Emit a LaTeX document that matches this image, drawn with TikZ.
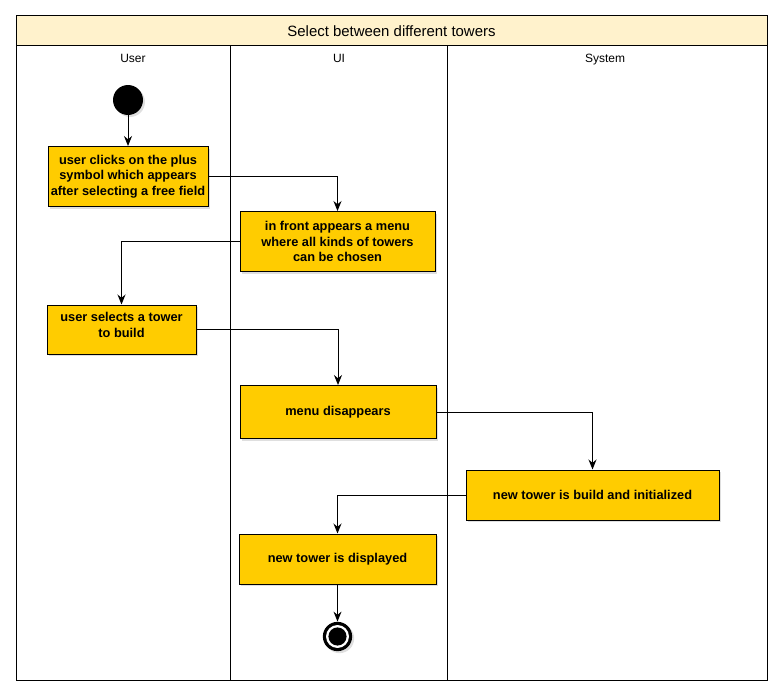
\documentclass[tikz,border=0pt]{standalone}
\usepackage{fontspec}
\setmainfont{Liberation Sans}
\usetikzlibrary{arrows.meta,shadows}
\definecolor{boxyellow}{RGB}{255,204,0}
\definecolor{titleyellow}{RGB}{255,242,204}
\tikzset{
  act/.style={draw=black, line width=0.75pt, fill=boxyellow, align=center,
    font=\bfseries\fontsize{9.6}{11.8}\selectfont, inner sep=1pt,
    drop shadow={opacity=0.25, shadow xshift=1.5pt, shadow yshift=-1.5pt}},
  boxtext/.style={align=center, font=\bfseries\fontsize{9.6}{11.8}\selectfont, inner sep=0pt},
  startnode/.style={circle, fill=black, minimum size=22.5pt, inner sep=0pt,
    drop shadow={opacity=0.25, shadow xshift=1.5pt, shadow yshift=-1.5pt}},
  endnode/.style={circle, fill=black, minimum size=22pt, inner sep=0pt,
    drop shadow={opacity=0.25, shadow xshift=1.5pt, shadow yshift=-1.5pt}},
  arr/.style={line width=0.75pt, -{Stealth[length=7.5pt, width=6pt, inset=2.5pt]}},
  frame/.style={line width=0.75pt},
  lanelabel/.style={font=\fontsize{9}{11}\selectfont, anchor=base, inner sep=0pt},
}
\begin{document}
\begin{tikzpicture}[x=0.75pt, y=-0.75pt]
\useasboundingbox (0,0) rectangle (782,696);
% pool
\filldraw[frame, fill=titleyellow] (16,15) rectangle (767,45);
\draw[frame] (16,45) rectangle (767,680);
\draw[frame] (230,45) -- (230,680);
\draw[frame] (447,45) -- (447,680);
\node[font=\fontsize{11.2}{13}\selectfont] (title) at (391.5,31.5) {Select between different towers};
\node[lanelabel] (luser) at (133,62) {User};
\node[lanelabel] (lui) at (339,62) {UI};
\node[lanelabel] (lsys) at (605,62) {System};
% nodes
\node[startnode] (start) at (128,100) {};
\node[act, minimum width=120pt, minimum height=45pt] (b1) at (128,176.5)
  {user clicks on the plus\\symbol which appears\\after selecting a free field};
\node[act, minimum width=146.25pt, minimum height=45pt] (b2) at (337.5,241.5)
  {in front appears a menu\\where all kinds of towers\\can be chosen};
\node[act, minimum width=111.75pt, minimum height=36.75pt] (b3) at (121.5,329.5) {};
\node[boxtext] (b3t) at (121.5,325) {user selects a tower\\to build};
\node[act, minimum width=147pt, minimum height=39.75pt] (b4) at (338,412)
  {menu disappears};
\node[act, minimum width=189.75pt, minimum height=37.5pt] (b5) at (592.5,495)
  {new tower is build and initialized};
\node[act, minimum width=147.75pt, minimum height=37.5pt] (b6) at (337.5,559)
  {new tower is displayed};
\node[endnode] (end) at (337.5,636.5) {};
\fill[white] (end.center) circle (8.6pt);
\fill[black] (end.center) circle (6.8pt);
% connectors
\draw[arr] (start) -- (b1.north);
\draw[arr] (b1.east) -| (b2.north);
\draw[arr] (b2.west) -| (b3.north);
\draw[arr] (b3.east) -| (b4.north);
\draw[arr] (b4.east) -| (b5.north);
\draw[arr] (b5.west) -| (b6.north);
\draw[arr] (b6.south) -- (end.north);
\end{tikzpicture}
\end{document}
